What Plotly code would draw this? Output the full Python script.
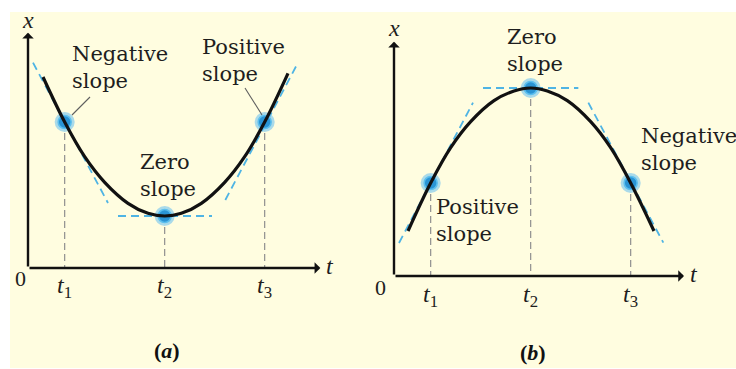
import plotly.graph_objects as go

# Instants marked on the time axis (same for both graphs)
t_marks = [1.1, 4.1, 7.1]
tick_labels = ["<i>t</i><sub>1</sub>", "<i>t</i><sub>2</sub>", "<i>t</i><sub>3</sub>"]

# (a) position curve with a minimum at t2
a_curve_t = [0.45, 1.1, 1.7, 2.3, 3.0, 3.6, 4.1, 4.6, 5.2, 5.9, 6.5, 7.1, 7.8]
a_curve_x = [5.73, 4.38, 3.34, 2.57, 1.94, 1.64, 1.56, 1.64, 1.94, 2.57, 3.34, 4.38, 5.84]
a_point_x = [4.38, 1.56, 4.38]
a_tan_neg_t, a_tan_neg_x = [0.15, 2.40], [6.16, 1.95]
a_tan_zero_t, a_tan_zero_x = [2.70, 5.52], [1.56, 1.56]
a_tan_pos_t, a_tan_pos_x = [5.92, 8.10], [2.04, 6.16]

# (b) position curve with a maximum at t2
b_curve_t = [0.42, 1.1, 1.7, 2.3, 3.0, 3.6, 4.1, 4.6, 5.2, 5.9, 6.5, 7.1, 7.8]
b_curve_x = [1.35, 2.79, 3.85, 4.63, 5.26, 5.55, 5.64, 5.55, 5.26, 4.63, 3.85, 2.79, 1.35]
b_point_x = [2.79, 5.64, 2.79]
b_tan_pos_t, b_tan_pos_x = [0.15, 2.37], [0.99, 5.20]
b_tan_zero_t, b_tan_zero_x = [2.67, 5.53], [5.64, 5.64]
b_tan_neg_t, b_tan_neg_x = [5.83, 8.08], [5.20, 1.00]

W, H = 736, 369
CREAM = "#fffde0"
TAN = "#4fb4e4"
GUIDE = "#8f8f8f"
SERIF = "DejaVu Serif"
MATH = "Liberation Serif"
INK = "#1e1e1e"

fig = go.Figure()


def add_panel(xa, ya, curve_t, curve_x, point_x, tangents):
    # vertical guides from the marked points down to the time axis
    for t, x in zip(t_marks, point_x):
        fig.add_trace(go.Scatter(x=[t, t], y=[x, 0], mode="lines", xaxis=xa, yaxis=ya,
                                 line=dict(color=GUIDE, width=1.2, dash="7px,4px"),
                                 hoverinfo="skip", showlegend=False))
    # dashed tangent lines
    for tt, tx in tangents:
        fig.add_trace(go.Scatter(x=tt, y=tx, mode="lines", xaxis=xa, yaxis=ya,
                                 line=dict(color=TAN, width=1.8, dash="8px,5px"),
                                 hoverinfo="skip", showlegend=False))
    # glowing dots at t1, t2, t3
    fig.add_trace(go.Scatter(x=t_marks, y=point_x, mode="markers", xaxis=xa, yaxis=ya,
                             marker=dict(size=20, color="rgba(100,190,240,0.55)"),
                             hoverinfo="skip", showlegend=False))
    fig.add_trace(go.Scatter(x=t_marks, y=point_x, mode="markers", xaxis=xa, yaxis=ya,
                             marker=dict(size=13, color="#2a94d4",
                                         line=dict(color="#5cbfee", width=1.6)),
                             hoverinfo="skip", showlegend=False))
    # position curve
    fig.add_trace(go.Scatter(x=curve_t, y=curve_x, mode="lines", xaxis=xa, yaxis=ya,
                             line=dict(color="#111111", width=3.2, shape="spline", smoothing=1),
                             hoverinfo="skip", showlegend=False))


add_panel("x", "y", a_curve_t, a_curve_x, a_point_x,
          [(a_tan_neg_t, a_tan_neg_x), (a_tan_zero_t, a_tan_zero_x), (a_tan_pos_t, a_tan_pos_x)])
add_panel("x2", "y2", b_curve_t, b_curve_x, b_point_x,
          [(b_tan_pos_t, b_tan_pos_x), (b_tan_zero_t, b_tan_zero_x), (b_tan_neg_t, b_tan_neg_x)])

# leader lines from the labels to the dots in (a)
for seg in ([1.86, 1.32], [5.13, 4.59]), ([6.51, 7.02], [5.40, 4.59]):
    fig.add_trace(go.Scatter(x=seg[0], y=seg[1], mode="lines", xaxis="x", yaxis="y",
                             line=dict(color="#5e5e5e", width=1.1),
                             hoverinfo="skip", showlegend=False))

annotations = []


def arrow(xref, yref, x0, y0, x1, y1):
    annotations.append(dict(x=x1, y=y1, ax=x0, ay=y0, xref=xref, yref=yref,
                            axref=xref, ayref=yref, showarrow=True, arrowhead=1,
                            arrowsize=0.8, arrowwidth=2.4, arrowcolor="#111111", text=""))


def label(xref, yref, x, y, text, size=21, xanchor="left", family=SERIF, color=INK):
    annotations.append(dict(x=x, y=y, xref=xref, yref=yref, text=text, showarrow=False,
                            xanchor=xanchor, yanchor="middle", align="left",
                            font=dict(family=family, size=size, color=color)))


for xr, yr, t_tip, x_tip, caption, cap_y, tick_y, zero_x, zero_y in (
        ("x", "y", 8.77, 7.06, "(<i>a</i>)", -2.46, -0.58, -0.24, -0.30),
        ("x2", "y2", 8.70, 7.03, "(<i>b</i>)", -2.28, -0.60, -0.42, -0.33)):
    arrow(xr, yr, 0, 0, t_tip, 0)
    arrow(xr, yr, 0, 0, 0, x_tip)
    label(xr, yr, 0, 7.45, "<i>x</i>", size=24, xanchor="center", family=MATH)
    label(xr, yr, t_tip + 0.3, 0.05, "<i>t</i>", size=24, xanchor="center", family=MATH)
    label(xr, yr, zero_x, zero_y, "0", size=22, xanchor="center", family=MATH)
    for t, lab in zip(t_marks, tick_labels):
        label(xr, yr, t, tick_y, lab, size=24, xanchor="center", family=MATH)
    label(xr, yr, 4.17, cap_y, "<b>" + caption + "</b>", size=22, xanchor="center",
          family=MATH, color="#111111")

# slope annotations
label("x", "y", 1.26, 6.03, "Negative<br>slope")
label("x", "y", 5.16, 6.24, "Positive<br>slope")
label("x", "y", 3.30, 2.79, "Zero<br>slope")
label("x2", "y2", 3.33, 6.78, "Zero<br>slope")
label("x2", "y2", 7.35, 3.81, "Negative<br>slope")
label("x2", "y2", 1.20, 1.68, "Positive<br>slope")

ax_common = dict(visible=False, showgrid=False, zeroline=False, fixedrange=True)
fig.update_layout(
    width=W, height=H,
    margin=dict(l=0, r=0, t=0, b=0),
    paper_bgcolor="white",
    plot_bgcolor="rgba(0,0,0,0)",
    xaxis=dict(domain=[0, 366 / W], range=[-0.84, 10.14], **ax_common),
    yaxis=dict(domain=[0, 1], range=[-3.03, 8.04], **ax_common),
    xaxis2=dict(domain=[366 / W, 1], range=[-0.84, 10.26], anchor="y2", **ax_common),
    yaxis2=dict(domain=[0, 1], range=[-2.79, 8.28], anchor="x2", **ax_common),
    shapes=[dict(type="rect", xref="paper", yref="paper", layer="below",
                 x0=10 / W, x1=1, y0=1 / H, y1=1 - 12 / H,
                 fillcolor=CREAM, line=dict(width=0))],
    annotations=annotations,
)

fig.write_html("out.html")
